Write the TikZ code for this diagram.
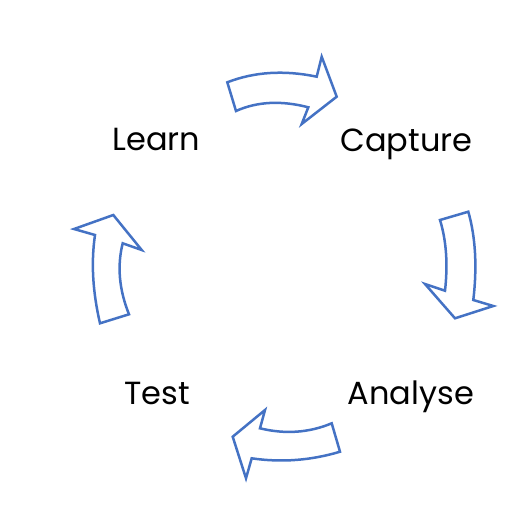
\documentclass[tikz,border=0pt]{standalone}
\usepackage{fontspec}
\setmainfont{Poppins}
\definecolor{arrowblue}{HTML}{4472C4}
\tikzset{
  cyclearrow/.style={draw=arrowblue, line width=2.5pt, fill=white},
  stage/.style={font=\fontsize{32}{38}\selectfont, text=black, anchor=base, inner sep=0pt}
}
\begin{document}
\begin{tikzpicture}[x=1pt,y=-1pt]
\useasboundingbox (0,0) rectangle (532,512);
\node[stage] (learn) at (156.5,150) {Learn};
\node[stage] (capture) at (406.5,151) {Capture};
\node[stage] (analyse) at (411,404) {Analyse};
\node[stage] (test) at (157,404) {Test};
% top arrow
\draw[cyclearrow] (227.3,82.3) .. controls (254.4,71.8) and (284.2,69.9) .. (316.7,76.7) -- (321.7,56.7) -- (336.7,96.7) -- (301.7,124) -- (308.3,107.3) .. controls (281.3,100.3) and (257.2,101.5) .. (236,111) -- cycle;
% right arrow
\draw[cyclearrow] (440,220) -- (468.3,211.7) .. controls (475.6,237.4) and (477.2,266.8) .. (473.3,300) -- (493.3,306) -- (455,318.3) -- (425,284) -- (445,290.7) .. controls (448,264) and (446.3,240.5) .. (440,220) -- cycle;
% bottom arrow
\draw[cyclearrow] (331.7,423.3) .. controls (308.9,432.8) and (285,434.4) .. (260,428.3) -- (265,410) -- (232.7,436.7) -- (246,478.3) -- (251.7,458.3) .. controls (282.2,462.8) and (311.7,460.2) .. (340,451.7) -- cycle;
% left arrow
\draw[cyclearrow] (100,323.3) .. controls (92.8,292.3) and (90.9,262.9) .. (95,235) -- (74,229) -- (113.3,215) -- (141.7,250) -- (122.7,243.3) .. controls (117,265.9) and (119.1,289.6) .. (129,314.3) -- cycle;
\end{tikzpicture}
\end{document}
